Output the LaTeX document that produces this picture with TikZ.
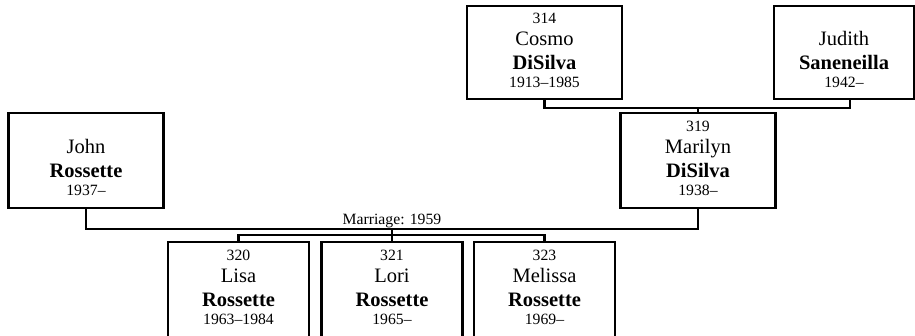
\documentclass[tikz,border=0pt]{standalone}
\usepackage{fontspec}
\setmainfont{Liberation Serif}
\usetikzlibrary{positioning,calc}

\newcommand{\numfont}{\fontsize{15.7}{18}\selectfont}
\newcommand{\pers}[4]{{\numfont #1}\\[-1pt]#2\\[1pt]\textbf{#3}\\[-5pt]{\numfont #4}\rule[-4pt]{0pt}{0pt}}

\begin{document}
\begin{tikzpicture}[
  x=1pt, y=-1pt,
  every node/.style={font=\fontsize{20.5}{23}\selectfont},
  person/.style={draw, line width=2.4pt, minimum height=93pt,
              inner sep=0pt, align=center},
  parent/.style={person, minimum width=155pt},
  child/.style={person, minimum width=141pt, minimum height=95pt},
  link/.style={line width=2.4pt},
  mlabel/.style={font=\numfont, inner sep=1pt},
]
  \useasboundingbox (0,0) rectangle (915,335);

  \node[parent] (cosmo) at (544.5, 52.5) {\pers{314}{Cosmo}{DiSilva}{1913--1985}};
  \node[parent, minimum width=140pt] (judith) at (844, 52.5)
    {\pers{\phantom{0}}{Judith}{Saneneilla}{1942--}};

  \node[parent, minimum height=95pt] (john) at (86, 160.5)
    {\pers{\phantom{0}}{John}{Rossette}{1937--}};
  \node[parent, minimum height=95pt] (marilyn) at (698, 160.5)
    {\pers{319}{Marilyn}{DiSilva}{1938--}};

  \node[child] (lisa) at (238.5, 289.5) {\pers{320}{Lisa}{Rossette}{1963--1984}};
  \node[child] (lori) at (392, 289.5) {\pers{321}{Lori}{Rossette}{1965--}};
  \node[child] (melissa) at (544.5, 289.5) {\pers{323}{Melissa}{Rossette}{1969--}};

  % DiSilva / Saneneilla
  \draw[link] (cosmo.south) -- ++(0,8) coordinate (top) -| ($(judith.south)+(6,0)$);
  \draw[link] (marilyn.north) -- (marilyn.north |- top);

  % Rossette / DiSilva
  \draw[link] (john.south) -- ++(0,20) -| (marilyn.south);
  \coordinate (fam) at ($(john.south)!0.5!(marilyn.south)+(0,20)$);
  \node[mlabel, above] (wed) at (fam) {Marriage: 1959};
  \draw[link] (fam) -- ++(0,6) coordinate (kids);
  \draw[link] (lisa.north) |- (kids) -| (melissa.north);
  \draw[link] (kids) -- (lori.north);
\end{tikzpicture}
\end{document}
